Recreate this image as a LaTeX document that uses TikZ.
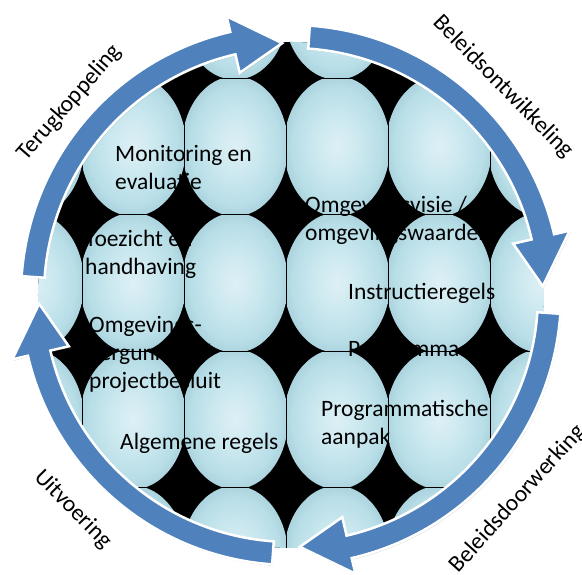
\documentclass[tikz,border=0pt]{standalone}
\usepackage{fontspec}
\setmainfont{Carlito}
\usetikzlibrary{shadows}
\definecolor{cycleblue}{RGB}{79,129,189}
\definecolor{tilein}{RGB}{221,240,245}
\definecolor{tilemid}{RGB}{205,233,240}
\definecolor{tileout}{RGB}{184,222,231}
\definecolor{tilerim}{RGB}{172,212,222}
\pgfdeclareradialshading{tileglow}{\pgfpoint{0bp}{0bp}}{color(0bp)=(tilein); color(10bp)=(tilemid); color(21bp)=(tileout); color(25bp)=(tilerim); color(50bp)=(tilerim)}
\begin{document}
\begin{tikzpicture}[x=1pt, y=1pt,
    phase/.style={fill=cycleblue, draw=white, line width=2.5pt, line join=miter,
      drop shadow={shadow xshift=1pt, shadow yshift=-1.5pt, opacity=0.25}},
    phaselabel/.style={font=\fontsize{23.5}{28}\selectfont, inner sep=0pt},
    item/.style={anchor=base west, inner sep=0pt, font=\fontsize{23.5}{28}\selectfont},
    gridline/.style={black, line width=0.4pt}]
  \fill[white] (-291,-280) rectangle (291,295);
  \useasboundingbox (-291,-280) rectangle (291,295);

  % tiled disc
  \begin{scope}
    \clip (0,0) circle (253);
    \fill[black] (0,0) circle (253);
    \foreach \i in {0,...,5}
      \foreach \j in {0,...,4}{
        \pgfmathsetmacro\cx{-260+102*\i}
        \pgfmathsetmacro\cy{285.25-136.5*\j}
        \begin{scope}
          \clip (\cx-51,\cy-68.25) rectangle (\cx+51,\cy+68.25);
          \shade[shading=tileglow] (\cx,\cy) ellipse [x radius=53, y radius=70];
        \end{scope}
      }
    \foreach \x in {-209,-107,-5,97,199}
      \draw[gridline] (\x,-260) -- (\x,260);
    \foreach \y in {217,80.5,-56,-192.5}
      \draw[gridline] (-260,\y) -- (260,\y);
  \end{scope}

  % cycle arrows
  \foreach \s in {176,86,-4,-94}{
    \pgfmathsetmacro\t{\s-84}
    \pgfmathsetmacro\h{\s-73}
    \path[phase] (\s:270) arc[start angle=\s, end angle=\h, radius=270]
      -- (\h:286) -- (\t:252) -- (\h:228) -- (\h:247)
      arc[start angle=\h, end angle=\s, radius=247] -- cycle;
  }

  \node[phaselabel, rotate=49] (tk) at (139:293) {Terugkoppeling};
  \node[phaselabel, rotate=-45.5] (bo) at (44.5:297) {Beleidsontwikkeling};
  \node[phaselabel, rotate=48] (bd) at (-42:305) {Beleidsdoorwerking};
  \node[phaselabel, rotate=-45.5] (uv) at (224.5:306) {Uitvoering};

  \node[item] (mon) at (-176,133) {\begin{tabular}[t]{@{}l@{}}Monitoring en\\evaluatie\end{tabular}};
  \node[item] (toe) at (-206,48) {\begin{tabular}[t]{@{}l@{}}Toezicht en\\handhaving\end{tabular}};
  \node[item] (vis) at (14,82) {\begin{tabular}[t]{@{}l@{}}Omgevingsvisie /\\omgevingswaarden\end{tabular}};
  \node[item] (ins) at (57,-5) {Instructieregels};
  \node[item] (prg) at (57,-62) {Programma};
  \node[item] (pra) at (30,-122) {\begin{tabular}[t]{@{}l@{}}Programmatische\\aanpak\end{tabular}};
  \node[item] (ver) at (-202,-38) {\begin{tabular}[t]{@{}l@{}}Omgevings-\\vergunning /\\projectbesluit\end{tabular}};
  \node[item] (alg) at (-171,-155) {Algemene regels};
\end{tikzpicture}
\end{document}
